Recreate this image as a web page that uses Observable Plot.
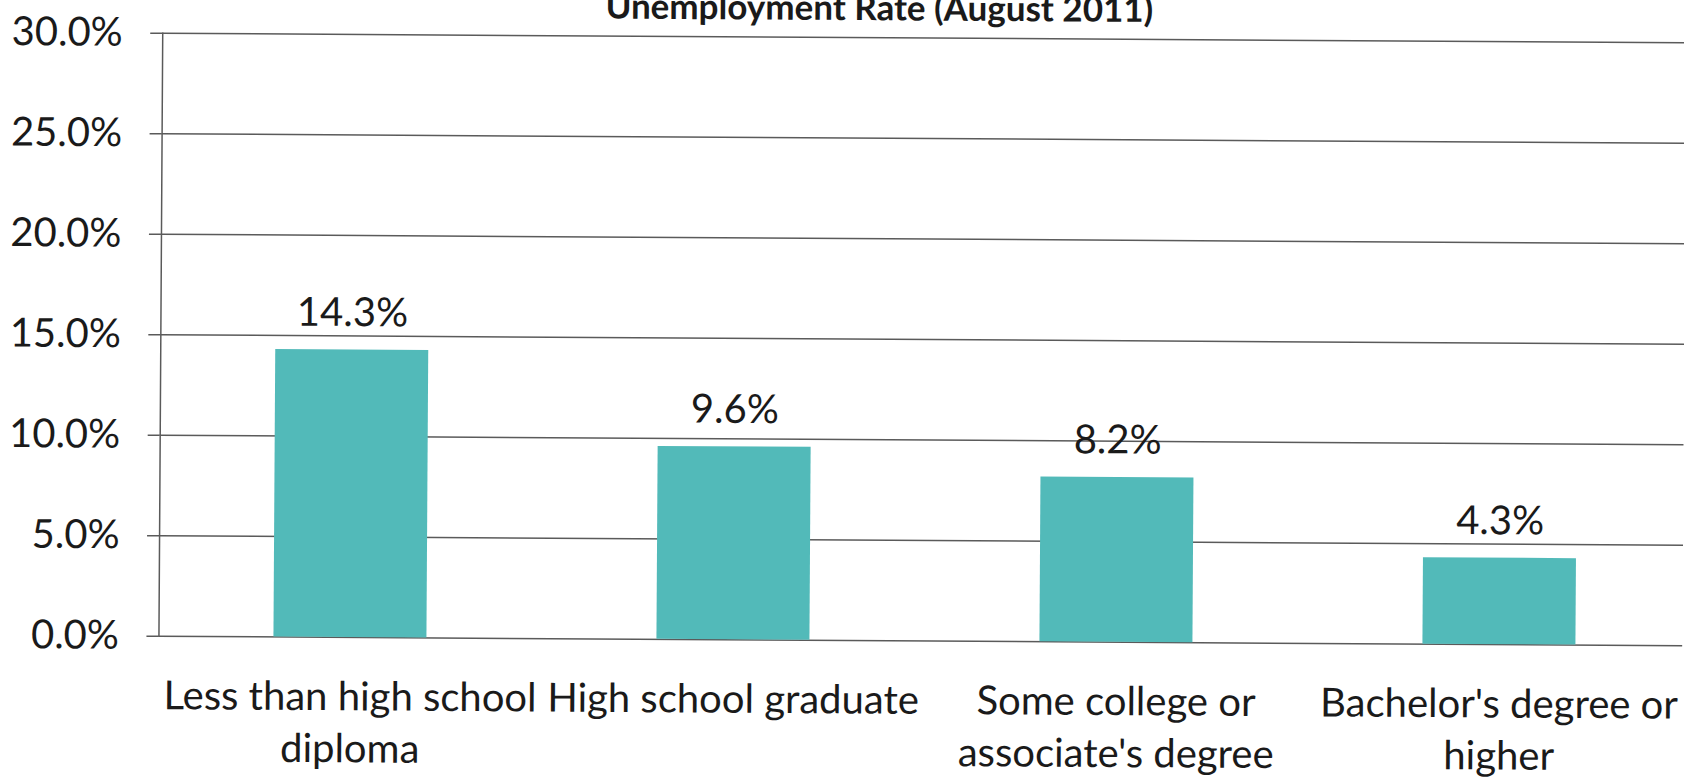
<!DOCTYPE html>
<html>
<head>
<meta charset="utf-8">
<script src="https://cdn.jsdelivr.net/npm/d3@7"></script>
<script src="https://cdn.jsdelivr.net/npm/@observablehq/plot@0.6"></script>
<style>
  html, body { margin: 0; padding: 0; background: #fff; overflow: hidden; }
  #wrap { position: relative; width: 1684px; height: 781px; transform: rotate(0.36deg); transform-origin: 842px 390px; }
  #title { position: absolute; left: 0; width: 1754px; top: -11px; text-align: center;
           font-family: Lato, "Open Sans", sans-serif; font-weight: bold; font-size: 35px; line-height: 1; color: #1a1a1a; }
</style>
</head>
<body>
<div id="wrap">
  <div id="title">Unemployment Rate (August 2011)</div>
  <div id="chart"></div>
</div>
<script>
const categories = [
  "Less than high school diploma",
  "High school graduate",
  "Some college or associate's degree",
  "Bachelor's degree or higher"
];
const categoryLabels = [
  "Less than high school\ndiploma",
  "High school graduate",
  "Some college or\nassociate's degree",
  "Bachelor's degree or\nhigher"
];
const rates = [14.3, 9.6, 8.2, 4.3];
const yTicks = [0, 5, 10, 15, 20, 25, 30];

const data = categories.map((c, i) => ({category: c, rate: rates[i]}));
const labelOf = new Map(categories.map((c, i) => [c, categoryLabels[i]]));

const barColor = "#52bab9";
const lineColor = "#5a5a5a";
const textColor = "#1a1a1a";
const fontSize = 40;

const chart = Plot.plot({
  width: 1684,
  height: 781,
  marginLeft: 160,
  marginRight: 0,
  marginTop: 37,
  marginBottom: 141,
  style: {fontFamily: "Lato, 'Open Sans', sans-serif", fontSize: fontSize + "px", color: textColor, background: "#fff"},
  x: {domain: categories, range: [160, 1692], paddingInner: 0.6, paddingOuter: 0.3, label: null},
  y: {domain: [0, 30], label: null},
  marks: [
    Plot.gridY(yTicks, {stroke: lineColor, strokeOpacity: 1, strokeWidth: 1.5}),
    Plot.axisY(yTicks, {tickSize: 12, tickPadding: 28, stroke: lineColor, strokeWidth: 1.5,
      tickFormat: d => d.toFixed(1) + "%", fill: textColor, fontSize: fontSize, label: null}),
    Plot.frame({anchor: "left", stroke: lineColor, strokeWidth: 1.5}),
    Plot.barY(data, {x: "category", y: "rate", fill: barColor}),
    Plot.text(data, {x: "category", y: "rate", text: d => d.rate.toFixed(1) + "%",
      dy: -24, lineAnchor: "bottom", fill: textColor, fontSize: fontSize}),
    Plot.axisX({tickSize: 0, tickPadding: 36, tickFormat: d => labelOf.get(d),
      lineHeight: 1.3, fill: textColor, fontSize: fontSize, label: null})
  ]
});
document.getElementById("chart").appendChild(chart);
</script>
</body>
</html>
